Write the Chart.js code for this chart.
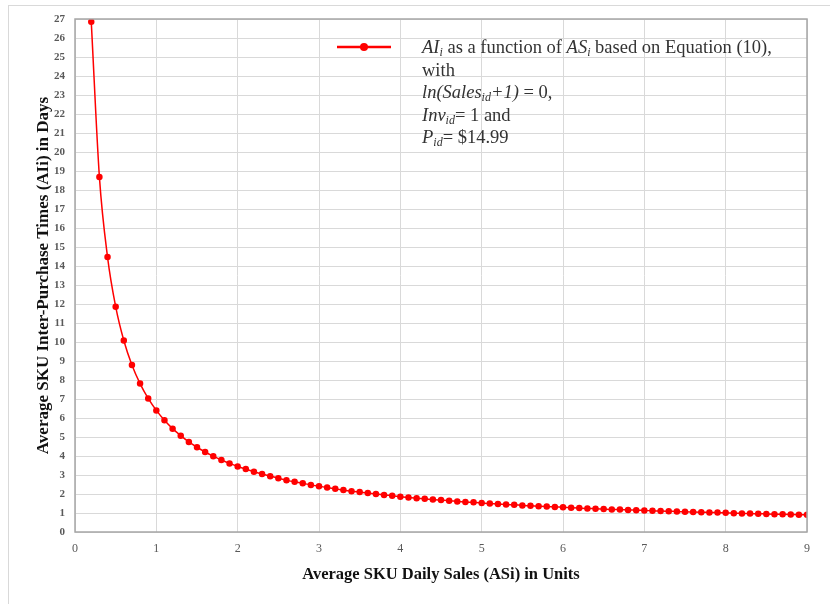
<!DOCTYPE html>
<html>
<head>
<meta charset="utf-8">
<script src="https://cdn.jsdelivr.net/npm/chart.js@4/dist/chart.umd.min.js"></script>
<style>
  html, body { margin: 0; padding: 0; background: #fff; }
  #frame { position: absolute; left: 8px; top: 5px; width: 840px; height: 620px; border: 1px solid #d9d9d9; }
  #wrap { position: absolute; left: 0; top: 0; width: 830px; height: 604px; }
</style>
</head>
<body>
<div id="frame"></div>
<div id="wrap"><canvas id="chart"></canvas></div>
<script>
// Average daily sales (x) and inter-purchase time (y)
const salesUnits = [
  0.2, 0.3, 0.4, 0.5, 0.6, 0.7, 0.8, 0.9, 1.0,
  1.1, 1.2, 1.3, 1.4, 1.5, 1.6, 1.7, 1.8, 1.9, 2.0,
  2.1, 2.2, 2.3, 2.4, 2.5, 2.6, 2.7, 2.8, 2.9, 3.0,
  3.1, 3.2, 3.3, 3.4, 3.5, 3.6, 3.7, 3.8, 3.9, 4.0,
  4.1, 4.2, 4.3, 4.4, 4.5, 4.6, 4.7, 4.8, 4.9, 5.0,
  5.1, 5.2, 5.3, 5.4, 5.5, 5.6, 5.7, 5.8, 5.9, 6.0,
  6.1, 6.2, 6.3, 6.4, 6.5, 6.6, 6.7, 6.8, 6.9, 7.0,
  7.1, 7.2, 7.3, 7.4, 7.5, 7.6, 7.7, 7.8, 7.9, 8.0,
  8.1, 8.2, 8.3, 8.4, 8.5, 8.6, 8.7, 8.8, 8.9, 9.0
]
const interPurchaseDays = [
  26.85, 18.69, 14.47, 11.86, 10.08, 8.79, 7.81, 7.03, 6.40,
  5.88, 5.44, 5.07, 4.74, 4.46, 4.21, 3.99, 3.79, 3.61, 3.45,
  3.31, 3.17, 3.05, 2.94, 2.83, 2.73, 2.64, 2.56, 2.48, 2.41,
  2.34, 2.27, 2.21, 2.15, 2.10, 2.05, 2.00, 1.95, 1.91, 1.86,
  1.82, 1.78, 1.75, 1.71, 1.68, 1.65, 1.61, 1.58, 1.56, 1.53,
  1.50, 1.48, 1.45, 1.43, 1.40, 1.38, 1.36, 1.34, 1.32, 1.30,
  1.28, 1.26, 1.24, 1.23, 1.21, 1.19, 1.18, 1.16, 1.15, 1.13,
  1.12, 1.10, 1.09, 1.08, 1.06, 1.05, 1.04, 1.03, 1.02, 1.01,
  0.99, 0.98, 0.97, 0.96, 0.95, 0.94, 0.93, 0.92, 0.91, 0.91
]
const xTicks = [0, 1, 2, 3, 4, 5, 6, 7, 8, 9]
const yMax = 27

// legend lines: [text, italic, subscript]
const legendLines = [
  [["AI", true, false], ["i", true, true], [" as a function of ", false, false], ["AS", true, false], ["i", true, true], [" based on Equation (10),", false, false]],
  [["with", false, false]],
  [["ln(Sales", true, false], ["id", true, true], ["+1)", true, false], [" = 0,", false, false]],
  [["Inv", true, false], ["id", true, true], ["= 1 and", false, false]],
  [["P", true, false], ["id", true, true], ["= $14.99", false, false]]
]

const serif = "'Liberation Serif', 'DejaVu Serif', serif"

const richLegend = {
  id: "richLegend",
  afterDraw(chart) {
    const ctx = chart.ctx
    ctx.save()
    // sample line with marker
    ctx.strokeStyle = "#ff0000"
    ctx.lineWidth = 2.5
    ctx.beginPath()
    ctx.moveTo(337, 47)
    ctx.lineTo(391, 47)
    ctx.stroke()
    ctx.fillStyle = "#ff0000"
    ctx.beginPath()
    ctx.arc(364, 47, 4, 0, Math.PI * 2)
    ctx.fill()
    // text
    ctx.fillStyle = "#333"
    ctx.textBaseline = "alphabetic"
    legendLines.forEach((line, i) => {
      let x = 422
      const y = 53 + i * 22.5
      line.forEach(([txt, it, sub]) => {
        const size = sub ? 12 : 18.5
        ctx.font = (it ? "italic " : "") + size + "px " + serif
        ctx.fillText(txt, x, sub ? y + 3 : y)
        x += ctx.measureText(txt).width
      })
    })
    ctx.restore()
  }
}

const plotBorder = {
  id: "plotBorder",
  afterDatasetsDraw(chart) {
    const a = chart.chartArea
    const ctx = chart.ctx
    ctx.save()
    ctx.strokeStyle = "#a6a6a6"
    ctx.lineWidth = 1.5
    ctx.strokeRect(a.left, a.top, a.right - a.left, a.bottom - a.top)
    ctx.restore()
  }
}

new Chart(document.getElementById("chart"), {
  type: "scatter",
  data: {
    datasets: [
      {
        label: "AIi",
        data: salesUnits.map((x, i) => ({ x: x, y: interPurchaseDays[i] })),
        showLine: true,
        borderColor: "#ff0000",
        backgroundColor: "#ff0000",
        borderWidth: 1.5,
        pointRadius: 2.5,
        pointHoverRadius: 3,
        tension: 0.4,
        cubicInterpolationMode: "monotone",
      },
    ],
  },
  options: {
    responsive: true,
    maintainAspectRatio: false,
    animation: false,
    layout: { padding: { left: 33, top: 19, right: 23, bottom: 0 } },
    plugins: {
      legend: { display: false },
      tooltip: { enabled: false },
    },
    scales: {
      x: {
        type: "linear",
        min: 0,
        max: 9,
        afterBuildTicks: (s) => { s.ticks = xTicks.map((v) => ({ value: v })) },
        afterFit: (s) => { s.height = 72 },
        grid: { color: "#d9d9d9", lineWidth: 1, drawTicks: false },
        border: { display: false },
        ticks: { color: "#595959", padding: 10, font: { family: serif, size: 12 } },
        title: {
          display: true,
          text: "Average SKU Daily Sales (ASi) in Units",
          color: "#111",
          font: { family: serif, size: 16.5, weight: "bold" },
          padding: { top: 8, bottom: 19 },
        },
      },
      y: {
        min: 0,
        max: yMax,
        afterFit: (s) => { s.width = 42 },
        grid: { color: "#d9d9d9", lineWidth: 1, drawTicks: false },
        border: { display: false },
        ticks: { stepSize: 1, color: "#595959", padding: 10, font: { family: serif, size: 11, weight: "bold" } },
        title: {
          display: true,
          text: "Average SKU Inter-Purchase Times (AIi) in Days",
          color: "#111",
          font: { family: serif, size: 17, weight: "bold" },
          padding: { top: 0, bottom: 0 },
        },
      },
    },
  },
  plugins: [plotBorder, richLegend],
})
</script>
</body>
</html>
